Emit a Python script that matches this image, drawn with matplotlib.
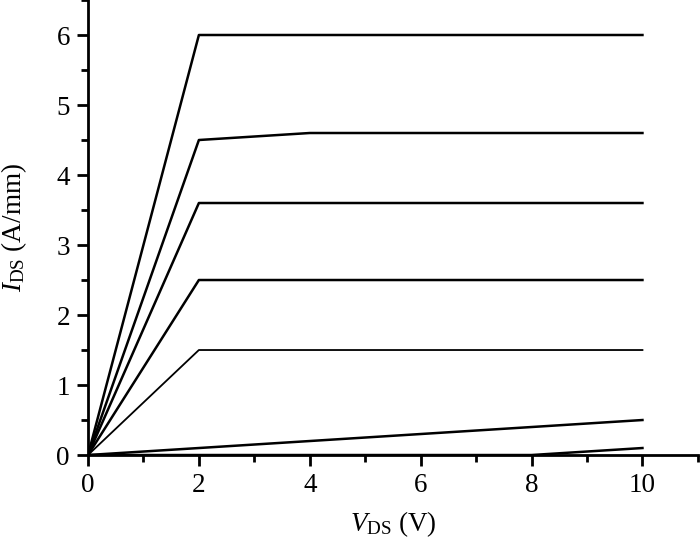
import matplotlib
matplotlib.use("Agg")
import matplotlib.pyplot as plt
from matplotlib.ticker import MultipleLocator

plt.rcParams['font.family'] = ['Liberation Serif', 'DejaVu Serif']
plt.rcParams['mathtext.fontset'] = 'custom'
plt.rcParams['mathtext.rm'] = 'Liberation Serif'
plt.rcParams['mathtext.it'] = 'Liberation Serif:italic'

# output curves (V_DS in V, I_DS in A/mm)
curves = [
    ([0, 2, 10], [0, 6.0, 6.0]),
    ([0, 2, 4, 10], [0, 4.5, 4.6, 4.6]),
    ([0, 2, 10], [0, 3.6, 3.6]),
    ([0, 2, 10], [0, 2.5, 2.5]),
    ([0, 2, 10], [0, 1.5, 1.5]),
    ([0, 10], [0, 0.5]),
    ([0, 8, 10], [0, 0, 0.1]),
]
widths = [1.8, 1.8, 1.8, 1.8, 1.3, 1.8, 1.8]

fig = plt.figure(figsize=(7, 5.39), dpi=100)
ax = fig.add_axes([0.1257, 0.1558, 0.8713, 0.8442])

for (vx, iy), lw in zip(curves, widths):
    ax.plot(vx, iy, color='black', lw=lw)

ax.set_xlim(0, 11)
ax.set_ylim(0, 6.5)
ax.xaxis.set_major_locator(MultipleLocator(2))
ax.xaxis.set_minor_locator(MultipleLocator(1))
ax.yaxis.set_major_locator(MultipleLocator(1))
ax.yaxis.set_minor_locator(MultipleLocator(0.5))
ax.spines['top'].set_visible(False)
ax.spines['right'].set_visible(False)
for s in ('left', 'bottom'):
    ax.spines[s].set_linewidth(2.0)
ax.tick_params(which='major', direction='out', length=8, width=2, labelsize=19.5, pad=5)
ax.tick_params(which='minor', direction='out', length=5, width=2)
ax.set_xticks([0, 2, 4, 6, 8, 10])

ax.set_xlabel(r'$\mathit{V}_{\rm DS}$ (V)', fontsize=19.5, labelpad=8)
ax.set_ylabel(r'$\mathit{I}_{\rm DS}$ (A/mm)', fontsize=19.5, labelpad=20)

fig.savefig('out.png', dpi=100)
